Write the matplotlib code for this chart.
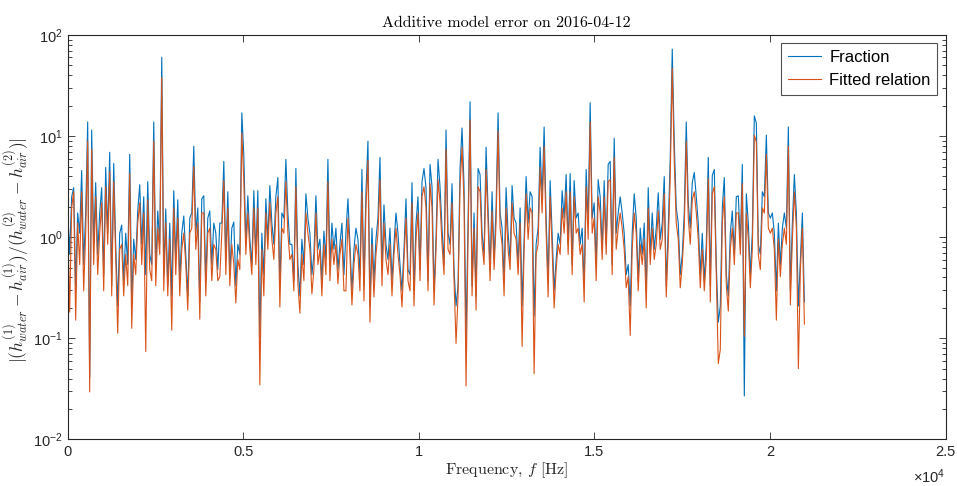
import numpy as np
import matplotlib
matplotlib.use("Agg")
import matplotlib.pyplot as plt
from matplotlib.ticker import LogLocator, FixedLocator, FuncFormatter, NullFormatter

# Spectral bins: uniform frequency grid
freq_step_hz = 57.0

# log10 of |(h1_water - h1_air)/(h2_water - h2_air)|, measured ratio
fraction_log10 = [
    0.29, -0.17, 0.40, 0.49, -0.48, 0.24, 0.04, 0.66, -0.27, 0.24, 1.14, -1.39, 1.06, -0.07, 0.54, -0.17,
    0.24, 0.49, -0.37, 0.69, 0.04, 0.84, -0.48, 0.73, -0.07, -0.68, 0.04, 0.12, -0.43, 0.04, -0.27, 0.82,
    -0.68, -0.02, -0.22,
    0.26, 0.52, -0.07, 0.40, -0.37, 0.55, -0.17, -0.27, 1.14, -0.32, 0.26, -0.07, 1.78, -0.37, 0.28, -0.48,
    0.14, -0.58, 0.46, -0.22, 0.37, -0.43, 0.04, 0.21, -0.17, -0.58, 0.19, 0.24, 0.90, 0.04, 0.29, -0.63,
    0.38, 0.41, -0.43, 0.19, 0.26, -0.27, 0.14,
    0.04, -0.32, 0.14, 0.14, 0.75, -0.22, 0.45, -0.37, 0.09, 0.15, -0.48, -0.07, -0.17, 1.23, 0.81, -0.07,
    0.41, -0.02, -0.27, 0.46, -0.17, 0.46, -0.99, 0.04, -0.37, 0.38, -0.02, 0.51, 0.14, -0.07, 0.40, 0.59,
    -0.48, 0.24, 0.19, 0.77, 0.24, -0.07,
    -0.07, -0.43, 0.68, -0.27, -0.58, -0.02, -0.27, 0.43, 0.19, 0.04, -0.37, -0.17, 0.41, -0.12, -0.02,
    -0.43, 0.06, -0.22, 0.77, -0.27, 0.14, -0.12, 0.09, -0.32, -0.07, 0.14, -0.37, 0.04, 0.38, -0.07, -0.53,
    -0.12, 0.09, -0.02, -0.37, 0.67, -0.48,
    0.45, 0.95, -0.68, 0.09, -0.43, -0.02, 0.19, 0.79, -0.32, 0.32, -0.07, -0.22, 0.09, -0.43, -0.07, 0.24,
    0.04, -0.27, -0.53, -0.12, 0.38, -0.32, -0.37, 0.54, -0.53, 0.14, 0.40, -0.32, 0.55, 0.68, 0.49, -0.43,
    0.72, 0.50, -0.53, -0.02, 0.77, 0.50,
    0.09, -0.27, 1.06, 0.04, -0.07, 0.53, -0.32, -0.68, -0.48, 0.68, 1.08, 0.51, -0.99, 0.14, 1.34, -0.48,
    0.24, -0.58, 0.68, 0.62, 0.04, -0.17, 0.89, 0.29, -0.32, 0.45, -0.22, 0.29, 1.23, 0.24, 0.09, -0.43,
    0.49, 0.04, -0.22, 0.51, 0.19,
    0.14, -0.27, 0.29, -0.68, -0.02, 0.60, 0.14, 0.45, 0.40, -0.78, -0.07, 0.09, 0.89, 0.40, 1.09, 0.19,
    -0.43, 0.56, 0.04, -0.53, -0.22, 0.04, -0.07, 0.46, 0.19, 0.62, -0.07, 0.63, -0.27, 0.56, 0.19, 0.24,
    -0.07, 0.09, -0.48, 0.67, 0.14, 1.33,
    0.19, 0.34, -0.27, 0.57, 0.40, -0.12, 0.56, -0.07, 0.72, 0.75, -0.27, 0.98, 0.04, 0.24, 0.40, 0.24, 0.04,
    -0.37, -0.27, -0.68, 0.04, 0.43, 0.19, -0.43, 0.09, -0.17, 0.14, -0.53, 0.49, -0.17, 0.24, -0.12, 0.09,
    0.44, -0.02, 0.14, 0.60,
    -0.48, 0.09, 0.79, 1.86, 0.95, 0.29, 0.14, -0.37, -0.17, 0.24, 1.14, 0.34, 0.09, 0.54, 0.64, 0.40, 0.14,
    -0.37, 0.04, -0.43, -0.07, 0.79, -0.48, 0.61, 0.67, -0.27, -0.84, -0.68, 0.29, 0.59, -0.37, -0.58, 0.04,
    0.26, -0.17, 0.40, 0.41, -0.07,
    0.72, -1.57, 0.43, 0.14, -0.37, 0.04, 1.20, 1.13, -0.07, -0.17, 0.45, 0.40, 1.01, 0.24, 0.19, 0.24, 0.04,
    -0.53, 0.14, -0.27, 0.09, 0.24, 0.09, 1.09, -0.53, 0.14, 0.62, 0.24, -0.68, -0.22, 0.24, -0.64,
]

# log10 of the same ratio given by the fitted relation
fitted_log10 = [
    0.19, -0.74, 0.29, 0.45, -0.82, 0.14, -0.27, 0.45, -0.53, 0.04, 0.95, -1.53, 0.87, -0.27, 0.40, -0.37,
    0.04, 0.34, -0.53, 0.50, -0.07, 0.65, -0.58, 0.55, -0.22, -0.95, -0.12, -0.07, -0.58, -0.17, -0.48, 0.63,
    -0.90, -0.17, -0.37,
    0.14, 0.34, -0.27, 0.24, -1.13, 0.37, -0.32, -0.43, 0.95, -0.48, 0.09, -0.17, 1.58, -0.53, 0.14, -0.58,
    -0.02, -0.92, 0.29, -0.37, 0.19, -0.58, -0.12, 0.04, -0.27, -0.72, 0.04, 0.09, 0.70, -0.12, 0.14, -0.81,
    0.24, 0.24, -0.58, 0.04, 0.09, -0.43, -0.07,
    -0.12, -0.43, -0.39, 0.04, 0.56, -0.37, 0.29, -0.48, -0.07, -0.27, -0.65, -0.22, -0.32, 1.03, 0.55, -0.17,
    0.24, -0.12, -0.37, 0.29, -0.27, 0.29, -1.46, -0.12, -0.58, 0.24, -0.12, 0.34, -0.02, -0.22, 0.24, 0.40,
    -0.69, 0.09, 0.04, 0.55, 0.04, -0.22,
    -0.17, -0.53, 0.50, -0.46, -0.75, -0.17, -0.43, 0.24, 0.04, -0.12, -0.56, -0.32, 0.24, -0.27, -0.12,
    -0.58, -0.07, -0.37, 0.55, -0.43, -0.02, -0.27, -0.07, -0.46, -0.17, -0.02, -0.53, -0.53, 0.19, -0.17,
    -0.67, -0.27, -0.07, -0.17, -0.53, 0.45, -0.63,
    0.29, 0.76, -0.84, -0.07, -0.59, -0.17, 0.04, 0.57, -0.48, 0.14, -0.22, -0.37, -0.07, -0.58, -0.17, 0.09,
    -0.17, -0.37, -0.69, -0.22, 0.19, -0.43, -0.53, 0.34, -0.68, -0.02, 0.24, -0.43, 0.40, 0.50, 0.29, -0.53,
    0.53, 0.29, -0.67, -0.12, 0.57, 0.34,
    -0.07, -0.37, 0.87, -0.12, -0.17, 0.34, -0.43, -1.05, -0.58, 0.50, 0.89, 0.34, -1.47, -0.02, 1.16, -0.58,
    0.09, -0.72, 0.50, 0.45, -0.07, -0.27, 0.67, 0.14, -0.43, 0.26, -0.32, 0.14, 1.05, 0.09, -0.07, -0.58,
    0.29, -0.12, -0.32, 0.34, 0.04,
    -0.02, -0.37, 0.14, -1.08, -0.12, 0.43, -0.02, 0.29, 0.24, -1.35, -0.17, -0.07, 0.69, 0.24, 0.90, 0.04,
    -0.59, 0.40, -0.12, -0.70, -0.32, -0.07, -0.17, 0.29, 0.04, 0.45, -0.17, 0.45, -0.37, 0.40, 0.04, 0.09,
    -0.17, -0.07, -0.64, 0.50, -0.02, 1.14,
    0.04, 0.19, -0.43, 0.40, 0.24, -0.22, 0.40, -0.17, 0.55, 0.57, -0.37, 0.79, -0.12, 0.09, 0.24, 0.09, -0.12,
    -0.50, -0.39, -0.97, -0.12, 0.24, 0.04, -0.53, -0.07, -0.27, -0.02, -0.70, 0.29, -0.27, 0.09, -0.22,
    -0.07, 0.26, -0.12, -0.02, 0.43,
    -0.59, -0.07, 0.60, 1.67, 0.75, 0.14, -0.02, -0.50, -0.27, 0.09, 0.95, 0.19, -0.07, 0.37, 0.45, 0.24,
    -0.02, -0.50, -0.12, -0.53, -0.22, 0.58, -0.64, 0.43, 0.50, -0.37, -1.25, -1.11, 0.14, 0.40, -0.48, -0.73,
    -0.12, 0.09, -0.27, 0.24, 0.24, -0.17,
    0.53, -0.98, 0.24, -0.02, -0.50, -0.12, 1.01, 0.94, -0.17, -0.32, 0.29, 0.24, 0.82, 0.09, 0.04, 0.09,
    -0.12, -0.82, -0.02, -0.39, -0.07, 0.09, -0.07, 0.90, -0.67, -0.02, 0.45, 0.09, -1.30, -0.32, 0.09, -0.86,
]

series_labels = ["Fraction", "Fitted relation"]
x_tick_values = [0, 0.5, 1, 1.5, 2, 2.5]   # in units of 10^4 Hz
title_text = "Additive model error on 2016-04-12"

fraction = 10.0 ** np.asarray(fraction_log10)
fitted = 10.0 ** np.asarray(fitted_log10)
freq = np.arange(len(fraction)) * freq_step_hz

plt.rcParams["font.family"] = ["Liberation Sans", "DejaVu Sans"]
plt.rcParams["mathtext.fontset"] = "cm"
plt.rcParams["axes.unicode_minus"] = False

axis_color = "#262626"
blue = "#0072BD"
orange = "#D95319"

fig = plt.figure(figsize=(9.57, 4.86), dpi=100)
ax = fig.add_axes([0.0707, 0.0957, 0.9175, 0.8323])

ax.semilogy(freq, fraction, color=blue, lw=0.8, label=series_labels[0])
ax.semilogy(freq, fitted, color=orange, lw=0.8, label=series_labels[1])

ax.set_xlim(0, 25000)
ax.set_ylim(1e-2, 1e2)

ax.xaxis.set_major_locator(FixedLocator([v * 1e4 for v in x_tick_values]))
ax.xaxis.set_major_formatter(FuncFormatter(lambda v, p: f"{v / 1e4:g}"))
ax.yaxis.set_major_locator(LogLocator(base=10, numticks=10))
ax.yaxis.set_minor_locator(LogLocator(base=10, subs=np.arange(2, 10), numticks=20))
ax.yaxis.set_minor_formatter(NullFormatter())

ax.tick_params(which="both", direction="in", top=True, right=True, colors=axis_color,
               labelsize=10.5, width=0.6)
ax.tick_params(which="major", length=5)
ax.tick_params(which="minor", length=2.8)
ax.tick_params(axis="x", pad=4)
for s in ax.spines.values():
    s.set_color(axis_color)
    s.set_linewidth(0.8)

ax.text(1.0, -0.07, "×" + r"$\mathdefault{10^{4}}$", transform=ax.transAxes, ha="right", va="top",
        fontsize=10.5, color=axis_color)

ax.set_title(title_text, family="cmr10", fontsize=11.5, color="black", pad=6)
ax.set_xlabel(r"Frequency, $f$ [Hz]", family="cmr10", fontsize=11.5, color=axis_color, labelpad=1)
ax.set_ylabel(r"$|(h^{(1)}_{water}-h^{(1)}_{air})/(h^{(2)}_{water}-h^{(2)}_{air})|$",
              fontsize=12.5, color=axis_color)
ax.yaxis.set_label_coords(-0.042, 0.468)

leg = ax.legend(loc="upper right", fontsize=12, frameon=True, fancybox=False,
                handlelength=2.0, handletextpad=0.5, borderpad=0.4, labelspacing=0.5,
                borderaxespad=0.5)
leg.get_frame().set_edgecolor(axis_color)
leg.get_frame().set_linewidth(0.8)

fig.savefig("out.png", dpi=100)
